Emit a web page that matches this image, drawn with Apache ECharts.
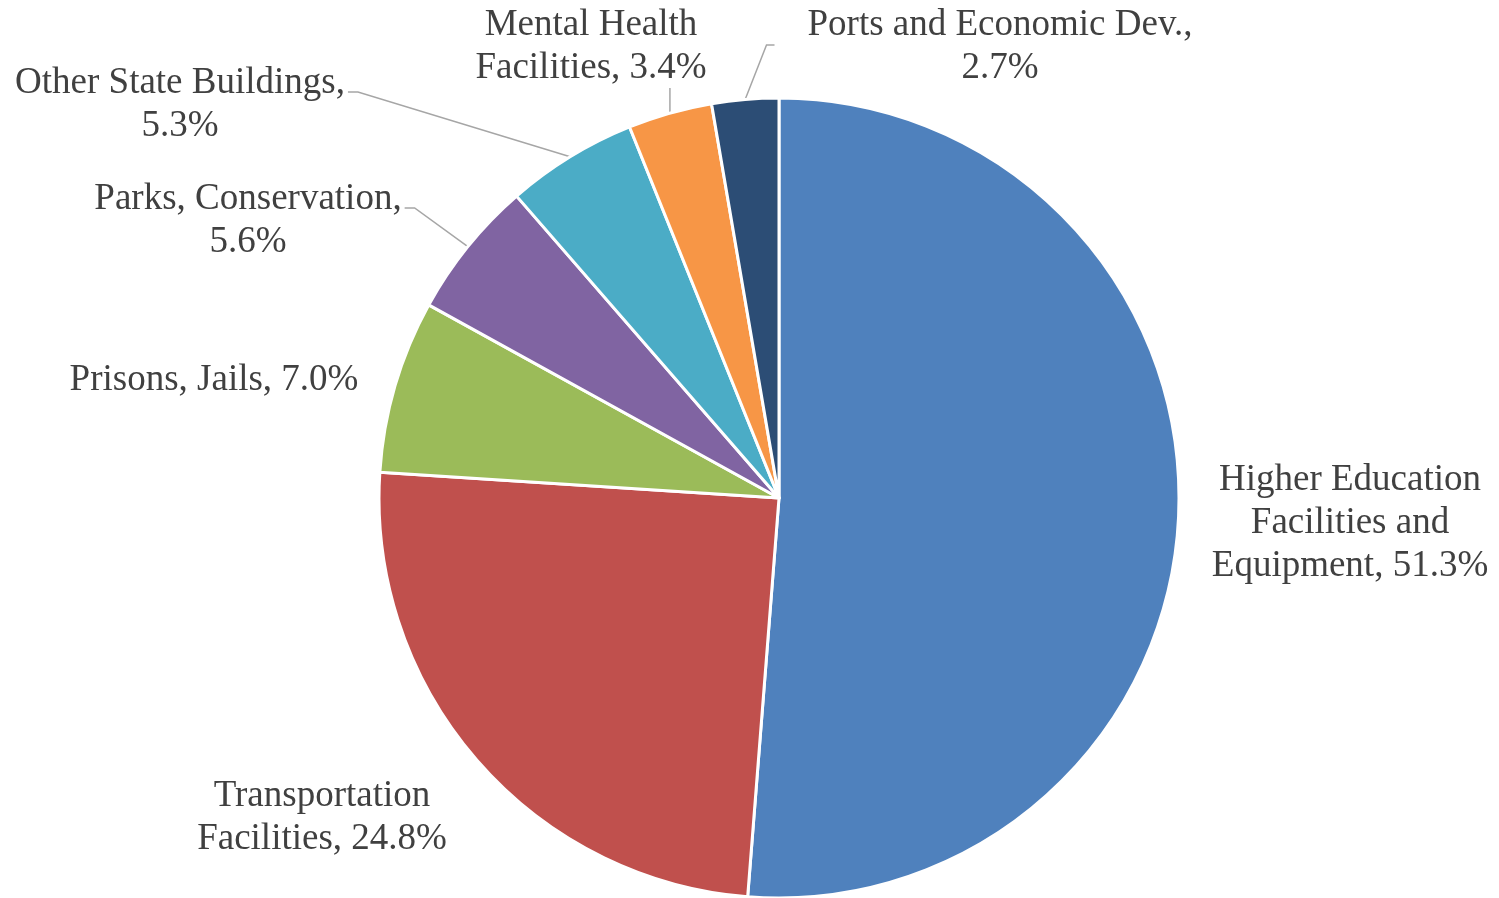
<!DOCTYPE html>
<html>
<head>
<meta charset="utf-8">
<script src="https://cdn.jsdelivr.net/npm/echarts@6/dist/echarts.min.js"></script>
<style>
  html, body { margin: 0; padding: 0; background: #ffffff; }
  #chart { width: 1499px; height: 898px; }
</style>
</head>
<body>
<div id="chart"></div>
<script>
// Capital spending by category, share of total (%)
const categories = [
  'Higher Education\nFacilities and\nEquipment',
  'Transportation\nFacilities',
  'Prisons, Jails',
  'Parks, Conservation',
  'Other State Buildings',
  'Mental Health\nFacilities',
  'Ports and Economic Dev.'
];
const shares = [51.3, 24.8, 7.0, 5.6, 5.3, 3.4, 2.7];
const sliceColors = ['#4F81BD', '#C0504D', '#9BBB59', '#8064A2', '#4BACC6', '#F79646', '#2C4D75'];

// label text: put the percentage on its own line after the comma for these
const breakAfterComma = [false, false, false, true, true, false, true];
// centre point of each label block (px)
const labelSpots = [[1350, 523], [322, 818], [214, 380], [248, 221], [180, 105], [591, 47], [1000, 47]];
// where the leader line meets the label (null = no leader)
const leaderSide = [null, null, null, 'right', 'right', 'bottom', 'left'];

const chart = echarts.init(document.getElementById('chart'), null, { renderer: 'canvas' });

const seriesData = categories.map((name, i) => ({
  name: name,
  value: shares[i],
  itemStyle: { color: sliceColors[i] },
  labelLine: { show: leaderSide[i] !== null }
}));

chart.setOption({
  backgroundColor: '#ffffff',
  animation: false,
  series: [{
    type: 'pie',
    center: [779, 498],
    radius: 400,
    startAngle: 90,
    clockwise: true,
    avoidLabelOverlap: false,
    emphasis: { disabled: true },
    itemStyle: { borderColor: '#ffffff', borderWidth: 3 },
    label: {
      show: true,
      position: 'outside',
      color: '#404040',
      fontFamily: '"Liberation Serif", "Times New Roman", serif',
      fontSize: 37,
      lineHeight: 43,
      formatter: function (p) {
        const sep = breakAfterComma[p.dataIndex] ? ',\n' : ', ';
        return p.name + sep + shares[p.dataIndex].toFixed(1) + '%';
      }
    },
    labelLine: {
      show: true,
      length: 20,
      length2: 10,
      lineStyle: { color: '#a6a6a6', width: 1.5 }
    },
    labelLayout: function (p) {
      const i = p.dataIndex;
      const cx = labelSpots[i][0];
      const cy = labelSpots[i][1];
      const w = p.labelRect.width;
      const h = p.labelRect.height;
      const out = { x: cx, y: cy, align: 'center', verticalAlign: 'middle' };
      const side = leaderSide[i];
      if (side && p.labelLinePoints) {
        const s = [p.labelLinePoints[0][0], p.labelLinePoints[0][1]];
        if (side === 'right') {
          const y = cy - h / 2 + 30;
          out.labelLinePoints = [[cx + w / 2 + 3, y], [cx + w / 2 + 13, y], s];
        } else if (side === 'left') {
          const y = cy - 2;
          out.labelLinePoints = [[cx - w / 2 - 33, y], [cx - w / 2 - 41, y], s];
        } else {
          out.labelLinePoints = [[s[0], cy + h / 2 - 2], [s[0], (cy + h / 2 + s[1]) / 2], s];
        }
      }
      return out;
    },
    data: seriesData
  }]
});
</script>
</body>
</html>
